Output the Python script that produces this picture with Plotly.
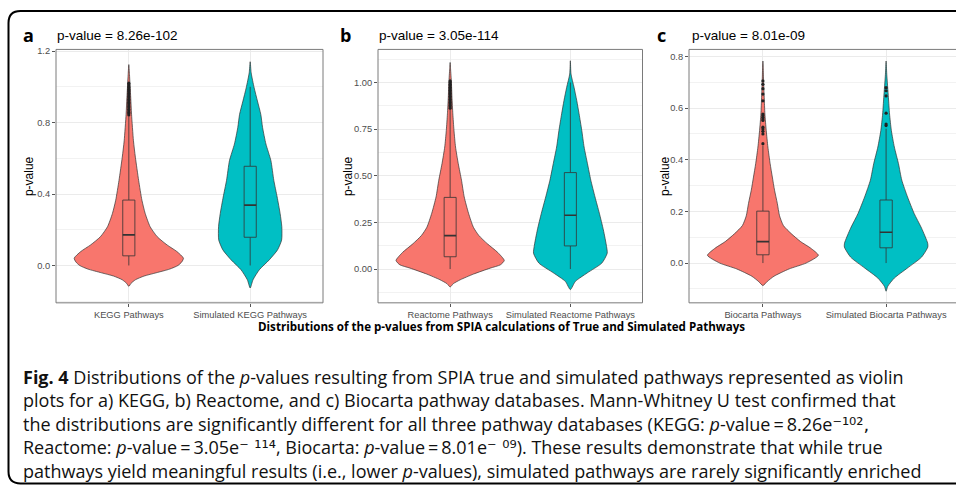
import plotly.graph_objects as go

W, H = 956, 486

# ------------------------------------------------------------------ data
cats_a = ["KEGG Pathways", "Simulated KEGG Pathways"]
cats_b = ["Reactome Pathways", "Simulated Reactome Pathways"]
cats_c = ["Biocarta Pathways", "Simulated Biocarta Pathways"]
panel_titles = ["p-value = 8.26e-102", "p-value = 3.05e-114", "p-value = 8.01e-09"]
panel_tags = ["a", "b", "c"]

# violin density profiles (p-value level, relative density; 1 = widest in panel)
kegg_true_y = [-0.117, -0.10, -0.08, -0.059, -0.041, -0.02, 0.0, 0.02, 0.041, 0.078, 0.115, 0.161,
               0.217, 0.291, 0.365, 0.476, 0.606, 0.698, 0.846, 0.939, 1.069, 1.124]
kegg_true_d = [0, 0.04, 0.12, 0.28, 0.50, 0.75, 0.90, 0.97, 1.0, 0.88, 0.70, 0.52,
               0.39, 0.30, 0.24, 0.18, 0.12, 0.085, 0.05, 0.035, 0.012, 0]
kegg_sim_y = [-0.126, -0.080, -0.024, 0.031, 0.087, 0.143, 0.217, 0.291, 0.383, 0.476, 0.587,
              0.680, 0.772, 0.846, 0.920, 0.994, 1.078, 1.14]
kegg_sim_d = [0, 0.052, 0.167, 0.348, 0.50, 0.576, 0.579, 0.548, 0.494, 0.433, 0.379,
              0.288, 0.227, 0.194, 0.133, 0.073, 0.018, 0]

react_true_y = [-0.096, -0.078, -0.057, -0.027, 0.005, 0.023, 0.046, 0.089, 0.135, 0.18, 0.224,
                0.299, 0.387, 0.476, 0.565, 0.654, 0.743, 0.832, 0.921, 1.009, 1.081, 1.107]
react_true_d = [0, 0.06, 0.19, 0.43, 0.74, 0.93, 1.0, 0.88, 0.69, 0.53, 0.43,
                0.34, 0.26, 0.21, 0.15, 0.10, 0.071, 0.05, 0.034, 0.022, 0.006, 0]
react_sim_y = [-0.110, -0.066, -0.021, 0.032, 0.085, 0.121, 0.210, 0.299, 0.387, 0.476, 0.565,
               0.654, 0.743, 0.832, 0.903, 0.974, 1.045, 1.116]
react_sim_d = [0, 0.093, 0.31, 0.582, 0.681, 0.669, 0.61, 0.536, 0.455, 0.378, 0.316,
               0.254, 0.211, 0.161, 0.118, 0.068, 0.012, 0]

bioc_true_y = [-0.087, -0.071, -0.051, -0.023, 0.0, 0.03, 0.058, 0.083, 0.114, 0.145, 0.183,
               0.231, 0.282, 0.333, 0.385, 0.449, 0.513, 0.577, 0.641, 0.705, 0.756, 0.782]
bioc_true_d = [0, 0.08, 0.20, 0.47, 0.78, 1.0, 0.86, 0.68, 0.51, 0.37, 0.30,
               0.26, 0.21, 0.17, 0.13, 0.09, 0.06, 0.036, 0.024, 0.012, 0.006, 0]
bioc_sim_y = [-0.109, -0.09, -0.058, -0.019, 0.023, 0.062, 0.077, 0.135, 0.192, 0.256, 0.321,
              0.385, 0.449, 0.513, 0.577, 0.641, 0.731, 0.782]
bioc_sim_d = [0, 0.03, 0.149, 0.387, 0.64, 0.753, 0.75, 0.64, 0.506, 0.387, 0.283,
              0.223, 0.149, 0.095, 0.0625, 0.042, 0.012, 0]

# box statistics: [lower whisker, q1, median, q3, upper whisker]
kegg_true_box = [0.0, 0.054, 0.171, 0.366, 0.835]
kegg_sim_box = [0.0, 0.158, 0.338, 0.555, 1.0]
react_true_box = [0.0, 0.066, 0.179, 0.384, 0.858]
react_sim_box = [0.0, 0.124, 0.288, 0.517, 1.0]
bioc_true_box = [0.0, 0.032, 0.083, 0.201, 0.455]
bioc_sim_box = [0.0, 0.059, 0.119, 0.244, 0.52]

# outliers
kegg_true_out = [0.842, 0.85, 0.858, 0.866, 0.874, 0.882, 0.89, 0.898, 0.906, 0.914, 0.922, 0.93,
                 0.938, 0.946, 0.954, 0.962, 0.97, 0.978, 0.986, 0.994, 1.0, 1.01, 1.02]
kegg_sim_out = []
react_true_out = [0.862, 0.87, 0.878, 0.886, 0.894, 0.902, 0.91, 0.918, 0.926, 0.934, 0.942,
                  0.95, 0.958, 0.966, 0.974, 0.982, 0.99, 1.0, 1.008]
react_sim_out = []
bioc_true_out = [0.462, 0.50, 0.51, 0.519, 0.526, 0.552, 0.558, 0.564, 0.571, 0.577,
                 0.628, 0.654, 0.675, 0.692, 0.705]
bioc_sim_out = [0.532, 0.538, 0.58, 0.647, 0.667, 0.679]

y_ticks_a = [0.0, 0.4, 0.8, 1.2]
y_ticks_b = [0.0, 0.25, 0.50, 0.75, 1.00]
y_ticks_c = [0.0, 0.2, 0.4, 0.6, 0.8]

SUP = '<span style="font-family:DejaVu Sans">{}</span>'
caption_lines = [
    "<b>Fig. 4</b> Distributions of the <i>p</i>-values resulting from SPIA true and simulated pathways represented as violin",
    "plots for a) KEGG, b) Reactome, and c) Biocarta pathway databases. Mann-Whitney U test confirmed that",
    "the distributions are significantly different for all three pathway databases (KEGG: <i>p</i>-value\u2009=\u20098.26e"
    + SUP.format("\u207b\u00b9\u2070\u00b2,"),
    "Reactome: <i>p</i>-value\u2009=\u20093.05e" + SUP.format("\u207b \u00b9\u00b9\u2074")
    + ", Biocarta: <i>p</i>-value\u2009=\u20098.01e" + SUP.format("\u207b \u2070\u2079")
    + "). These results demonstrate that while true",
    "pathways yield meaningful results (i.e., lower <i>p</i>-values), simulated pathways are rarely significantly enriched",
]
bottom_title = "Distributions of the p-values from SPIA calculations of True and Simulated Pathways"

# ------------------------------------------------------------------ layout constants
RED, TEAL = "#F8766D", "#00BFC4"
OUTLINE = "#333333"
BOX_HALF = 0.05
px = lambda x: x / W
py = lambda y: 1 - y / H

panels = [
    dict(cats=cats_a, vy=[kegg_true_y, kegg_sim_y], vd=[kegg_true_d, kegg_sim_d],
         box=[kegg_true_box, kegg_sim_box], out=[kegg_true_out, kegg_sim_out],
         xpx=(56, 323, 323), yrange=[-0.209, 1.209], ticks=y_ticks_a, fmt=".1f", minor=0.2,
         tag_x=28, title_x=55, ytitle_x=29),
    dict(cats=cats_b, vy=[react_true_y, react_sim_y], vd=[react_true_d, react_sim_d],
         box=[react_true_box, react_sim_box], out=[react_true_out, react_sim_out],
         xpx=(378, 642.5, 642.5), yrange=[-0.181, 1.177], ticks=y_ticks_b, fmt=".2f", minor=0.125,
         tag_x=345, title_x=377, ytitle_x=348),
    dict(cats=cats_c, vy=[bioc_true_y, bioc_sim_y], vd=[bioc_true_d, bioc_sim_d],
         box=[bioc_true_box, bioc_sim_box], out=[bioc_true_out, bioc_sim_out],
         xpx=(689, 956, 960), yrange=[-0.154, 0.827], ticks=y_ticks_c, fmt=".1f", minor=0.1,
         tag_x=661, title_x=690, ytitle_x=665),
]
TOP, BOTTOM = 46.7, 301.7

fig = go.Figure()
shapes, annotations = [], []
layout_axes = {}
tick_font = dict(family="Liberation Sans, Arial", size=9.3, color="#4d4d4d")


def add_line(xs, ys, xa, ya, width, color=OUTLINE):
    fig.add_trace(go.Scatter(x=xs, y=ys, mode="lines", line=dict(color=color, width=width),
                             xaxis=xa, yaxis=ya, hoverinfo="skip", showlegend=False))


for i, p in enumerate(panels):
    n = "" if i == 0 else str(i + 1)
    xa, ya = "x" + n, "y" + n
    colors = [RED, TEAL]
    for k in range(2):
        c = k
        ys, ds = p["vy"][k], p["vd"][k]
        xs_r = [c + 0.45 * d for d in ds]
        xs_l = [c - 0.45 * d for d in ds]
        poly_x = xs_r + xs_l[::-1][1:]
        poly_y = ys + ys[::-1][1:]
        fig.add_trace(go.Scatter(x=poly_x, y=poly_y, mode="lines", fill="toself",
                                 fillcolor=colors[k],
                                 line=dict(color=OUTLINE, width=0.7, shape="spline", smoothing=0.6),
                                 xaxis=xa, yaxis=ya, hoverinfo="skip", showlegend=False))
        lo, q1, med, q3, hi = p["box"][k]
        add_line([c, c], [lo, q1], xa, ya, 0.8)
        add_line([c, c], [q3, hi], xa, ya, 0.8)
        fig.add_trace(go.Scatter(x=[c - BOX_HALF, c + BOX_HALF, c + BOX_HALF, c - BOX_HALF, c - BOX_HALF],
                                 y=[q1, q1, q3, q3, q1], mode="lines", fill="toself",
                                 fillcolor=colors[k], line=dict(color=OUTLINE, width=0.8),
                                 xaxis=xa, yaxis=ya, hoverinfo="skip", showlegend=False))
        add_line([c - BOX_HALF, c + BOX_HALF], [med, med], xa, ya, 1.6)
        if p["out"][k]:
            fig.add_trace(go.Scatter(x=[c] * len(p["out"][k]), y=p["out"][k], mode="markers",
                                     marker=dict(color="#222222", size=3.2), xaxis=xa, yaxis=ya,
                                     hoverinfo="skip", showlegend=False))
    x0, x1vis, x1full = p["xpx"]
    xr_end = -0.6 + 2.2 * (x1vis - x0) / (x1full - x0)
    layout_axes["xaxis" + n] = dict(domain=[px(x0), px(x1vis)], range=[-0.6, xr_end],
                                    tickvals=[0, 1], ticktext=p["cats"], tickfont=tick_font,
                                    showgrid=True, gridcolor="#ebebeb", gridwidth=1, zeroline=False,
                                    ticks="outside", ticklen=3, tickcolor="#555", showline=False,
                                    anchor=ya, fixedrange=True)
    layout_axes["yaxis" + n] = dict(domain=[py(BOTTOM), py(TOP)], range=p["yrange"],
                                    tickvals=p["ticks"], tickformat=p["fmt"], tickfont=tick_font,
                                    showgrid=True, gridcolor="#ebebeb", gridwidth=1, zeroline=False,
                                    minor=dict(showgrid=True, gridcolor="#f2f2f2", gridwidth=0.6,
                                               dtick=p["minor"], tick0=0),
                                    ticks="outside", ticklen=3, tickcolor="#555", showline=False,
                                    anchor=xa, fixedrange=True)
    shapes.append(dict(type="rect", xref="paper", yref="paper", x0=px(x0), x1=px(x1full),
                       y0=py(BOTTOM), y1=py(TOP), line=dict(color="#7a7a7a", width=1),
                       fillcolor="rgba(0,0,0,0)", layer="above"))
    annotations.append(dict(text=panel_tags[i], x=px(p["tag_x"]), y=py(32), xref="paper", yref="paper",
                            showarrow=False, xanchor="center", yanchor="middle",
                            font=dict(family="Open Sans", size=18, color="black", weight="bold")))
    annotations.append(dict(text=panel_titles[i], x=px(p["title_x"]), y=py(33), xref="paper", yref="paper",
                            showarrow=False, xanchor="left", yanchor="middle",
                            font=dict(family="Liberation Sans, Arial", size=13.5, color="black")))
    annotations.append(dict(text="p-value", x=px(p["ytitle_x"]), y=py((TOP + BOTTOM) / 2), xref="paper",
                            yref="paper", showarrow=False, textangle=-90, xanchor="center", yanchor="middle",
                            font=dict(family="Liberation Sans, Arial", size=12, color="black")))

annotations.append(dict(text="<b>" + bottom_title + "</b>", x=px(502), y=py(326), xref="paper", yref="paper",
                        showarrow=False, xanchor="center", yanchor="middle",
                        font=dict(family="Open Sans", size=11.6, color="black")))
annotations.append(dict(text="<br>".join(caption_lines), x=px(21), y=py(424), xref="paper", yref="paper",
                        showarrow=False, xanchor="left", yanchor="middle", align="left",
                        font=dict(family="Open Sans", size=18, color="#111111")))

# outer rounded frame
r = 12
fx0, fy0, fy1, fx1 = 8.5, 8, 483.5, 970
path = (f"M {px(fx1)},{py(fy0)} L {px(fx0 + r)},{py(fy0)} Q {px(fx0)},{py(fy0)} {px(fx0)},{py(fy0 + r)} "
        f"L {px(fx0)},{py(fy1 - r)} Q {px(fx0)},{py(fy1)} {px(fx0 + r)},{py(fy1)} L {px(fx1)},{py(fy1)}")
shapes.append(dict(type="path", path=path, xref="paper", yref="paper", line=dict(color="black", width=2)))

fig.update_layout(width=W, height=H, margin=dict(l=0, r=0, t=0, b=0),
                  paper_bgcolor="white", plot_bgcolor="white", showlegend=False,
                  shapes=shapes, annotations=annotations, **layout_axes)

fig.write_html("out.html", config={"displayModeBar": False})
